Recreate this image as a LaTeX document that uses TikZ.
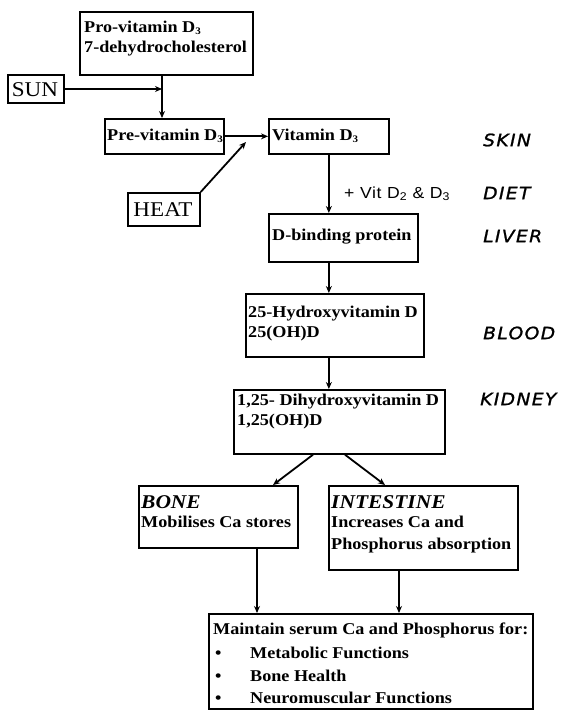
\documentclass[tikz,border=0pt]{standalone}
\usepackage{fontspec}
\setmainfont{Liberation Serif}[FakeStretch=1.1]
\newfontfamily\sidefont{DejaVu Sans Oblique}[FakeStretch=1.1,FakeBold=1.2,LetterSpace=8]
\newfontfamily\dietfont{Liberation Sans}[FakeStretch=1.1,LetterSpace=4]
\newcommand{\mysub}[1]{\raisebox{-2.5pt}{\fontsize{10}{10}\selectfont #1}}
\usetikzlibrary{arrows.meta,calc}
\tikzset{
  box/.style={draw, line width=1.7pt, anchor=north west, inner sep=0pt},
  txt/.style={anchor=base west, inner sep=0pt, font=\bfseries\fontsize{16.5}{20}\selectfont},
  head/.style={anchor=base west, inner sep=0pt, font=\bfseries\itshape\fontsize{19.5}{24}\selectfont},
  big/.style={anchor=base, inner sep=0pt, font=\fontsize{21}{24}\selectfont},
  side/.style={anchor=west, inner sep=0pt, font=\sidefont\fontsize{17}{20}\selectfont},
  diet/.style={anchor=base west, inner sep=0pt, font=\dietfont\fontsize{16}{20}\selectfont},
  arr/.style={line width=1.8pt, -{Stealth[length=7pt,width=6pt]}},
}
\begin{document}
\begin{tikzpicture}[x=1pt,y=-1pt]
\useasboundingbox[fill=white] (0,0) rectangle (567,720);
% boxes and texts
\node[box, minimum width=173pt, minimum height=63pt] (pro) at (79,11) {};
\node[txt] (pro1) at (84,32) {Pro-vitamin D\mysub{3}};
\node[txt] (pro2) at (84,52) {7-dehydrocholesterol};
\node[box, minimum width=56pt, minimum height=28pt] (sun) at (7,74) {};
\node[big] (suntext) at (35,96) {SUN};
\node[box, minimum width=119pt, minimum height=35pt] (pre) at (104,118) {};
\node[txt] (pre1) at (107,140) {Pre-vitamin D\mysub{3}};
\node[box, minimum width=120pt, minimum height=35pt] (vit) at (268,118) {};
\node[txt] (vit1) at (272,140) {Vitamin D\mysub{3}};
\node[box, minimum width=72pt, minimum height=33pt] (heat) at (127,192) {};
\node[big] (heattext) at (163,216) {HEAT};
\node[box, minimum width=149pt, minimum height=48pt] (dbp) at (268,213) {};
\node[txt] (dbp1) at (272,240) {D-binding protein};
\node[box, minimum width=178pt, minimum height=63pt] (hyd) at (245,293) {};
\node[txt] (hyd1) at (248,317) {25-Hydroxyvitamin D};
\node[txt] (hyd2) at (248,337) {25(OH)D};
\node[box, minimum width=211pt, minimum height=64pt] (dih) at (233,389) {};
\node[txt] (dih1) at (237,405) {1,25- Dihydroxyvitamin D};
\node[txt] (dih2) at (237,425) {1,25(OH)D};
\node[box, minimum width=159pt, minimum height=62pt] (bone) at (138,485) {};
\node[head] (bone1) at (141,508) {BONE};
\node[txt] (bone2) at (141,527) {Mobilises Ca stores};
\node[box, minimum width=189pt, minimum height=84pt] (int) at (328,485) {};
\node[head] (int1) at (331,508) {INTESTINE};
\node[txt] (int2) at (331,527) {Increases Ca and};
\node[txt] (int3) at (331,549) {Phosphorus absorption};
\node[box, minimum width=324pt, minimum height=95pt] (fin) at (208,613) {};
\node[txt] (fin1) at (213,634) {Maintain serum Ca and Phosphorus for:};
\node[txt] (fin2) at (215,658) {\makebox[35pt][l]{•}Metabolic Functions};
\node[txt] (fin3) at (215,681) {\makebox[35pt][l]{•}Bone Health};
\node[txt] (fin4) at (215,703) {\makebox[35pt][l]{•}Neuromuscular Functions};
% side labels
\node[side] (skin) at (483,140) {SKIN};
\node[side] (dietl) at (483,193) {DIET};
\node[side] (liver) at (483,236) {LIVER};
\node[side] (blood) at (483,333) {BLOOD};
\node[side] (kidney) at (480,399) {KIDNEY};
\node[diet] (vitd) at (344,198) {+ Vit D\textsubscript{2} \& D\textsubscript{3}};
% connectors
\coordinate (j) at (162,89);
\draw[arr] (pro.south -| j) -- (pre.north -| j);
\draw[arr] (sun.east |- j) -- (j);
\draw[arr] (pre) -- (vit);
\coordinate (h) at (246,142);
\draw[arr] (heat.north east) -- (h);
\draw[arr] (vit.south) -- (vit.south |- dbp.north);
\draw[arr] (dbp.south -| vit.south) -- (hyd.north -| vit.south);
\draw[arr] (hyd.south -| vit.south) -- (dih.north -| vit.south);
\draw[arr] ($(dih.south west)+(80,0)$) -- ($(bone.north west)+(135,0)$);
\draw[arr] ($(dih.south west)+(112,0)$) -- ($(int.north west)+(57,0)$);
\coordinate (b1) at ($(bone.south west)+(119,0)$);
\draw[arr] (b1) -- (b1 |- fin.north);
\coordinate (i1) at ($(int.south west)+(71,0)$);
\draw[arr] (i1) -- (i1 |- fin.north);
\end{tikzpicture}
\end{document}
